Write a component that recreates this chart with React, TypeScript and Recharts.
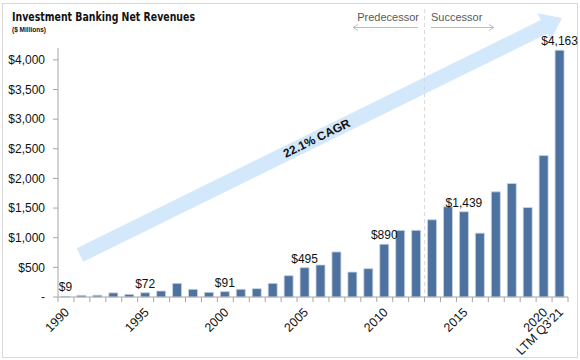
import {BarChart, Bar, XAxis, YAxis, LabelList} from 'recharts';

const years = ['1990', '1991', '1992', '1993', '1994', '1995', '1996', '1997', '1998', '1999',
  '2000', '2001', '2002', '2003', '2004', '2005', '2006', '2007', '2008', '2009',
  '2010', '2011', '2012', '2013', '2014', '2015', '2016', '2017', '2018', '2019',
  '2020', "LTM Q3'21"];
const revenues = [9, 28, 30, 70, 45, 72, 101, 230, 130, 79,
  91, 130, 141, 230, 360, 495, 540, 760, 421, 478,
  890, 1123, 1125, 1303, 1522, 1439, 1077, 1774, 1914, 1510,
  2385, 4163];
const labelledYears = ['1990', '1995', '2000', '2005', '2010', '2015', "LTM Q3'21"];
const tickYears = ['1990', '1995', '2000', '2005', '2010', '2015', '2020', "LTM Q3'21"];
const yTicks = [0, 500, 1000, 1500, 2000, 2500, 3000, 3500, 4000];

const data = years.map((year, i) => ({
  year,
  value: revenues[i],
  label: labelledYears.includes(year) ? '$' + revenues[i].toLocaleString('en-US') : '',
}));

const FONT = '"Liberation Sans", Arial, sans-serif';

const money = (v: number) => (v === 0 ? '-' : '$' + v.toLocaleString('en-US'));

const YearTick = (props: any) => {
  const {x, y, payload, index} = props;
  const off = payload.offset || 7.97;
  const show = tickYears.includes(payload.value);
  return (
    <g>
      <line x1={x - off} x2={x - off} y1={y} y2={y + 5} stroke="#a6a6a6" />
      {index === years.length - 1 && <line x1={x + off} x2={x + off} y1={y} y2={y + 5} stroke="#a6a6a6" />}
      {show && (
        <text x={x + 4} y={y + 16} textAnchor="end" fontSize={12.5} fontFamily={FONT} fill="#111"
              transform={`rotate(-45 ${x + 4} ${y + 16})`}>
          {payload.value}
        </text>
      )}
    </g>
  );
};

// growth arrow behind the bars
const arrowStart = [80, 255];
const arrowTip = [562, 18];
const Backdrop = () => {
  const dx = arrowTip[0] - arrowStart[0], dy = arrowTip[1] - arrowStart[1];
  const len = Math.hypot(dx, dy);
  const d = [dx / len, dy / len];
  const n = [-d[1], d[0]];
  const w = 7.5, hw = 15, hl = 20;
  const b = [arrowTip[0] - hl * d[0], arrowTip[1] - hl * d[1]];
  const pt = (p: number[], k: number) => `${p[0] + k * n[0]},${p[1] + k * n[1]}`;
  const pts = [pt(arrowStart, -w), pt(b, -w), pt(b, -hw), `${arrowTip[0]},${arrowTip[1]}`, pt(b, hw), pt(b, w), pt(arrowStart, w)].join(' ');
  const angle = Math.atan2(dy, dx) * 180 / Math.PI;
  return (
    <svg width={580} height={360} style={{position: 'absolute', left: 0, top: 0}}>
      <rect x={2.5} y={3.5} width={575} height={354} fill="#fff" stroke="#d9d9d9" />
      <text x={12} y={21} fontSize={13} fontWeight="bold" fontFamily='"DejaVu Sans Condensed", "Liberation Sans", sans-serif'
            fill="#111" textLength={183} lengthAdjust="spacingAndGlyphs">
        Investment Banking Net Revenues
      </text>
      <text x={12} y={32} fontSize={7} fontWeight="bold" fontFamily={FONT} fill="#111" textLength={34}
            lengthAdjust="spacingAndGlyphs">($ Millions)</text>
      <polygon points={pts} fill="#d3e8fb" />
      <text x={316.7} y={138.3} fontSize={12} fontWeight="bold" fontFamily={FONT} textAnchor="middle"
            dominantBaseline="central" transform={`rotate(${angle} 316.7 138.3)`} fill="#111">
        22.1% CAGR
      </text>
      <line x1={424.6} x2={424.6} y1={9} y2={297} stroke="#d9d9d9" strokeDasharray="4 3" />
      <text x={419} y={21} fontSize={11} fontFamily={FONT} fill="#595959" textAnchor="end">Predecessor</text>
      <text x={431} y={21} fontSize={11} fontFamily={FONT} fill="#595959">Successor</text>
      <g stroke="#bfbfbf" fill="none">
        <line x1={418} x2={353} y1={27.5} y2={27.5} />
        <polyline points="358,24.5 353,27.5 358,30.5" />
        <line x1={431} x2={494} y1={27.5} y2={27.5} />
        <polyline points="489,24.5 494,27.5 489,30.5" />
      </g>
    </svg>
  );
};

export default function App() {
  return (
    <div style={{position: 'absolute', left: 0, top: 0, width: 580, height: 360}}>
      <Backdrop />
      <div style={{position: 'absolute', left: 0, top: 0}}>
        <BarChart width={580} height={360} data={data} margin={{top: 48, right: 12, left: 0, bottom: 0}}>
          <XAxis dataKey="year" interval={0} height={63} tickSize={0} tickMargin={0} tickLine={false}
                 axisLine={{stroke: '#a6a6a6'}} tick={<YearTick />} />
          <YAxis width={58} domain={[0, 4200]} ticks={yTicks} tickFormatter={money} tickSize={5} tickMargin={8}
                 axisLine={{stroke: '#a6a6a6'}} tickLine={{stroke: '#a6a6a6'}}
                 tick={{fontSize: 12, fontFamily: FONT, fill: '#111'}} />
          <Bar dataKey="value" fill="#4e72a0" stroke="#c9d6e6" strokeWidth={0.8} barSize={9} isAnimationActive={false}>
            <LabelList dataKey="label" position="top" offset={5} fontSize={12} fontFamily={FONT} fill="#111" />
          </Bar>
        </BarChart>
      </div>
    </div>
  );
}
